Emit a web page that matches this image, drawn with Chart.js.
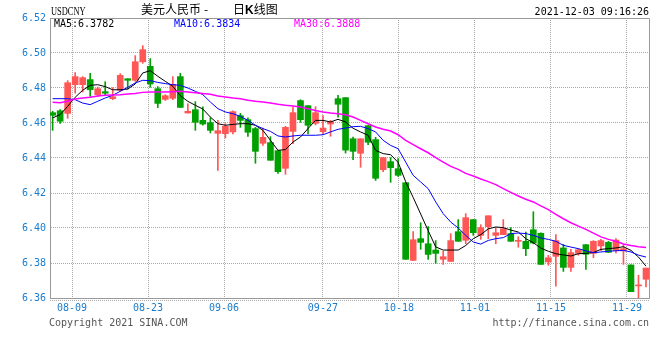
<!DOCTYPE html>
<html>
<head>
<meta charset="utf-8">
<script src="https://cdn.jsdelivr.net/npm/chart.js@4.4.0/dist/chart.umd.min.js"></script>
<style>
  body { margin: 0; background: #fff; }
  #wrap { position: relative; width: 660px; height: 360px; overflow: hidden; background: #fff; }
  #wrap canvas { position: absolute; left: 0; top: 0; }
  .txt { position: absolute; white-space: pre; font-family: "DejaVu Sans Mono", monospace; font-size: 10px; line-height: 10px; color: #000; }
  .cjk { position: absolute; white-space: pre; font-family: "Noto Sans CJK SC", sans-serif; font-size: 12px; line-height: 12px; color: #000; }
</style>
</head>
<body>
<div id="wrap">
  <canvas id="kChart" width="660" height="360"></canvas>
  <div class="txt" id="symbol" style="left:51px; top:5px; font-family:'Liberation Serif', serif; font-size:12px; line-height:12px; transform:scaleX(0.7); transform-origin:0 0;">USDCNY</div>
  <div class="cjk" style="left:141px; top:3px;">美元人民币</div>
  <div class="cjk" style="left:204px; top:3px;">-</div>
  <div class="cjk" style="left:233px; top:3px;">日<b style="font-family:'Liberation Sans', sans-serif;">K</b>线图</div>
  <div class="txt" style="right:11px; top:7px;">2021-12-03 09:16:26</div>
  <div class="txt" style="left:49px; top:318px; color:#555;">Copyright 2021 SINA.COM</div>
  <div class="txt" style="right:11px; top:318px; color:#555;">http://finance.sina.com.cn</div>
</div>
<script>
// axis labels
const tickLabels = ['08-09', '08-23', '09-06', '09-27', '10-18', '11-01', '11-15', '11-29'];
const tickDays = [3, 13, 23, 36, 46, 56, 66, 76];

// daily candles
const openPrices = [
  6.4659, 6.4670, 6.4655, 6.4819, 6.4819, 6.4848, 6.4762, 6.4779, 6.4739, 6.4787,
  6.4853, 6.4844, 6.4950, 6.4924, 6.4796, 6.4735, 6.4741, 6.4865, 6.4657, 6.4676,
  6.4615, 6.4602, 6.4541, 6.4539, 6.4549, 6.4642, 6.4619, 6.4568, 6.4484, 6.4488,
  6.4442, 6.4341, 6.4552, 6.4728, 6.4699, 6.4598, 6.4550, 6.4594, 6.4739, 6.4745,
  6.4510, 6.4427, 6.4585, 6.4505, 6.4333, 6.4379, 6.4339, 6.4259, 6.3815, 6.3939,
  6.3910, 6.3874, 6.3821, 6.3809, 6.3979, 6.3930, 6.4048, 6.3958, 6.4008, 6.3958,
  6.3962, 6.3968, 6.3924, 6.3924, 6.3990, 6.3970, 6.3806, 6.3838, 6.3886, 6.3775,
  6.3855, 6.3905, 6.3855, 6.3897, 6.3918, 6.3872, 6.3869, 6.3789, 6.3669, 6.3707
];
const highPrices = [
  6.4667, 6.4676, 6.4842, 6.4888, 6.4865, 6.4884, 6.4806, 6.4836, 6.4802, 6.4882,
  6.4853, 6.4985, 6.5042, 6.4968, 6.4808, 6.4762, 6.4865, 6.4884, 6.4710, 6.4722,
  6.4693, 6.4630, 6.4615, 6.4596, 6.4670, 6.4655, 6.4629, 6.4575, 6.4571, 6.4522,
  6.4442, 6.4581, 6.4691, 6.4733, 6.4699, 6.4693, 6.4642, 6.4615, 6.4758, 6.4745,
  6.4520, 6.4510, 6.4585, 6.4518, 6.4402, 6.4402, 6.4396, 6.4259, 6.3979, 6.4030,
  6.4008, 6.3928, 6.3867, 6.3968, 6.4048, 6.4082, 6.4048, 6.4019, 6.4070, 6.4002,
  6.4048, 6.4002, 6.3950, 6.3977, 6.4093, 6.3973, 6.3844, 6.3962, 6.3907, 6.3878,
  6.3882, 6.3905, 6.3928, 6.3935, 6.3924, 6.3939, 6.3905, 6.3789, 6.3730, 6.3771
];
const lowPrices = [
  6.4558, 6.4598, 6.4627, 6.4771, 6.4777, 6.4752, 6.4752, 6.4756, 6.4733, 6.4781,
  6.4794, 6.4838, 6.4941, 6.4804, 6.4688, 6.4729, 6.4733, 6.4689, 6.4657, 6.4558,
  6.4587, 6.4543, 6.4329, 6.4514, 6.4537, 6.4575, 6.4524, 6.4370, 6.4472, 6.4387,
  6.4312, 6.4307, 6.4482, 6.4604, 6.4537, 6.4589, 6.4537, 6.4524, 6.4634, 6.4428,
  6.4390, 6.4347, 6.4476, 6.4272, 6.4322, 6.4261, 6.4295, 6.3821, 6.3815, 6.3878,
  6.3821, 6.3798, 6.3792, 6.3809, 6.3924, 6.3910, 6.3958, 6.3935, 6.3939, 6.3910,
  6.3962, 6.3924, 6.3890, 6.3842, 6.3909, 6.3792, 6.3787, 6.3667, 6.3752, 6.3752,
  6.3844, 6.3764, 6.3830, 6.3870, 6.3861, 6.3857, 6.3792, 6.3636, 6.3598, 6.3663
];
const closePrices = [
  6.4644, 6.4610, 6.4830, 6.4865, 6.4859, 6.4790, 6.4796, 6.4770, 6.4750, 6.4872,
  6.4844, 6.4950, 6.5019, 6.4823, 6.4712, 6.4756, 6.4821, 6.4689, 6.4667, 6.4604,
  6.4594, 6.4558, 6.4556, 6.4581, 6.4665, 6.4615, 6.4547, 6.4438, 6.4518, 6.4387,
  6.4322, 6.4575, 6.4659, 6.4619, 6.4587, 6.4659, 6.4571, 6.4606, 6.4707, 6.4445,
  6.4438, 6.4510, 6.4490, 6.4284, 6.4402, 6.4345, 6.4301, 6.3821, 6.3933, 6.3918,
  6.3849, 6.3855, 6.3836, 6.3928, 6.3924, 6.4059, 6.3973, 6.4002, 6.4070, 6.3973,
  6.3996, 6.3924, 6.3926, 6.3882, 6.3914, 6.3792, 6.3830, 6.3928, 6.3775, 6.3859,
  6.3876, 6.3850, 6.3924, 6.3928, 6.3861, 6.3931, 6.3882, 6.3636, 6.3672, 6.3771
];

// moving averages as drawn
const ma5 = [
  6.4629, 6.4648, 6.4695, 6.4747, 6.4787, 6.4815, 6.4819, 6.4808, 6.4790, 6.4790,
  6.4794, 6.4823, 6.4886, 6.4899, 6.4867, 6.4838, 6.4810, 6.4756, 6.4724, 6.4701,
  6.4680, 6.4634, 6.4596, 6.4587, 6.4592, 6.4596, 6.4596, 6.4587, 6.4558, 6.4501,
  6.4444, 6.4448, 6.4491, 6.4520, 6.4568, 6.4615, 6.4615, 6.4606, 6.4621, 6.4606,
  6.4570, 6.4549, 6.4530, 6.4444, 6.4425, 6.4419, 6.4375, 6.4265, 6.4175, 6.4080,
  6.3985, 6.3892, 6.3874, 6.3874, 6.3874, 6.3900, 6.3939, 6.3962, 6.3995, 6.4006,
  6.4002, 6.3988, 6.3977, 6.3939, 6.3916, 6.3885, 6.3867, 6.3853, 6.3846, 6.3840,
  6.3853, 6.3855, 6.3860, 6.3878, 6.3882, 6.3886, 6.3893, 6.3872, 6.3834, 6.3782
];
const ma10 = [
  6.4739, 6.4739, 6.4739, 6.4733, 6.4714, 6.4705, 6.4724, 6.4743, 6.4758, 6.4781,
  6.4804, 6.4829, 6.4844, 6.4842, 6.4832, 6.4825, 6.4819, 6.4815, 6.4800, 6.4781,
  6.4762, 6.4720, 6.4682, 6.4663, 6.4653, 6.4638, 6.4615, 6.4587, 6.4568, 6.4552,
  6.4526, 6.4520, 6.4526, 6.4530, 6.4530, 6.4530, 6.4533, 6.4549, 6.4564, 6.4571,
  6.4579, 6.4581, 6.4568, 6.4549, 6.4501, 6.4472, 6.4453, 6.4377, 6.4301, 6.4263,
  6.4225, 6.4149, 6.4082, 6.4034, 6.4000, 6.3958, 6.3920, 6.3908, 6.3929, 6.3939,
  6.3945, 6.3968, 6.3971, 6.3968, 6.3958, 6.3943, 6.3935, 6.3924, 6.3901, 6.3891,
  6.3882, 6.3869, 6.3859, 6.3863, 6.3867, 6.3870, 6.3872, 6.3863, 6.3845, 6.3834
];
const ma30 = [
  6.4718, 6.4716, 6.4724, 6.4737, 6.4743, 6.4747, 6.4754, 6.4758, 6.4760, 6.4762,
  6.4766, 6.4769, 6.4775, 6.4777, 6.4777, 6.4777, 6.4779, 6.4781, 6.4777, 6.4773,
  6.4768, 6.4764, 6.4754, 6.4749, 6.4743, 6.4739, 6.4730, 6.4724, 6.4720, 6.4714,
  6.4707, 6.4701, 6.4697, 6.4691, 6.4682, 6.4672, 6.4663, 6.4657, 6.4653, 6.4647,
  6.4634, 6.4615, 6.4596, 6.4577, 6.4564, 6.4554, 6.4533, 6.4501, 6.4476, 6.4453,
  6.4430, 6.4402, 6.4377, 6.4352, 6.4335, 6.4312, 6.4297, 6.4280, 6.4265, 6.4248,
  6.4225, 6.4204, 6.4183, 6.4164, 6.4149, 6.4126, 6.4105, 6.4078, 6.4053, 6.4030,
  6.4011, 6.3992, 6.3971, 6.3949, 6.3935, 6.3924, 6.3909, 6.3900, 6.3893, 6.3888
];
const maNames = ['MA5', 'MA10', 'MA30'];
const maLatest = [6.3782, 6.3834, 6.3888];

const UP = '#ff5656';
const DOWN = '#00a000';
const MA_COLORS = ['#000000', '#0000ff', '#ff00ff'];
const TICK_BLUE = '#1a7ccc';
const monoFont = { family: 'DejaVu Sans Mono', size: 10 };

// legend row inside the plot
const wrap = document.getElementById('wrap');
[54, 174, 294].forEach((left, i) => {
    const el = document.createElement('div');
    el.className = 'txt';
    el.style.left = left + 'px';
    el.style.top = '19px';
    el.style.color = MA_COLORS[i];
    el.textContent = maNames[i] + ':' + maLatest[i].toFixed(4);
    wrap.appendChild(el);
});

const days = closePrices.map((c, i) => i);
const candleColors = days.map(i => closePrices[i] >= openPrices[i] ? UP : DOWN);

// solid frame on top/right and the dotted rule under the x axis
const framePlugin = {
    id: 'frame',
    afterDraw(chart) {
        const { ctx, chartArea: a } = chart;
        ctx.save();
        ctx.strokeStyle = '#999';
        ctx.lineWidth = 1;
        ctx.beginPath();
        ctx.moveTo(a.left, a.top + 0.5);
        ctx.lineTo(a.right + 0.5, a.top + 0.5);
        ctx.lineTo(a.right + 0.5, a.bottom);
        ctx.stroke();
        ctx.setLineDash([1, 1]);
        ctx.strokeStyle = '#aaa';
        ctx.beginPath();
        ctx.moveTo(a.left, a.bottom + 2.5);
        ctx.lineTo(a.right, a.bottom + 2.5);
        ctx.stroke();
        ctx.restore();
    }
};

const maLine = (values, color, width) => ({
    type: 'line',
    data: days.map(i => ({ x: i, y: values[i] })),
    borderColor: color,
    borderWidth: width,
    pointRadius: 0,
    tension: 0,
    xAxisID: 'x',
    order: 0
});

new Chart(document.getElementById('kChart'), {
    type: 'bar',
    data: {
        datasets: [
            {
                data: days.map(i => ({ x: i, y: [lowPrices[i], highPrices[i]] })),
                backgroundColor: candleColors,
                barThickness: 1,
                grouped: false,
                xAxisID: 'x',
                order: 3
            },
            {
                data: days.map(i => ({ x: i, y: [openPrices[i], closePrices[i]] })),
                backgroundColor: candleColors,
                barThickness: 6,
                minBarLength: 1,
                grouped: false,
                xAxisID: 'x',
                order: 2
            },
            maLine(ma30, MA_COLORS[2], 1.5),
            maLine(ma10, MA_COLORS[1], 1),
            maLine(ma5, MA_COLORS[0], 1)
        ]
    },
    options: {
        responsive: false,
        animation: false,
        devicePixelRatio: 1,
        layout: { padding: { left: 0, right: 11, top: 18, bottom: 0 } },
        plugins: { legend: { display: false }, tooltip: { enabled: false } },
        scales: {
            x: {
                type: 'linear',
                display: false,
                offset: false,
                min: -0.35,
                max: 79.4
            },
            xd: {
                type: 'linear',
                position: 'bottom',
                offset: false,
                min: 0.1,
                max: 78.9,
                afterBuildTicks: (axis) => { axis.ticks = tickDays.map(v => ({ value: v })); },
                afterFit: (axis) => { axis.height = 62; },
                ticks: {
                    autoSkip: false,
                    maxRotation: 0,
                    padding: 4,
                    color: TICK_BLUE,
                    font: monoFont,
                    callback: (v, i) => tickLabels[i]
                },
                grid: { color: '#aaa', drawTicks: false, offset: false },
                border: { color: '#999', dash: [1, 1] }
            },
            y: {
                min: 6.36,
                max: 6.52,
                afterFit: (axis) => { axis.width = 50; },
                ticks: {
                    stepSize: 0.02,
                    padding: 4,
                    color: TICK_BLUE,
                    font: monoFont,
                    callback: v => v.toFixed(2)
                },
                grid: { color: '#aaa', drawTicks: false },
                border: { color: '#999', dash: [1, 1] }
            }
        }
    },
    plugins: [framePlugin]
});
</script>
</body>
</html>
